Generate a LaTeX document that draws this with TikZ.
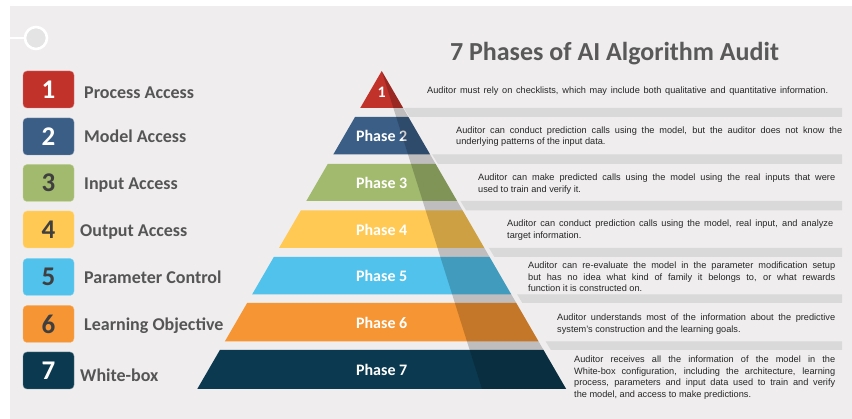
\documentclass[tikz,border=0pt]{standalone}
\usepackage{fontspec}
\setmainfont{Liberation Sans}
\newfontfamily\carl{Carlito}
\definecolor{c1}{HTML}{C1322B}
\definecolor{c2}{HTML}{3B5E86}
\definecolor{c3}{HTML}{A2BA6D}
\definecolor{c4}{HTML}{FFC954}
\definecolor{c5}{HTML}{51C2EC}
\definecolor{c6}{HTML}{F59533}
\definecolor{c7}{HTML}{0B3A50}
\definecolor{bgc}{HTML}{EFEDEE}
\definecolor{barc}{HTML}{D9D9D9}
\definecolor{txtc}{HTML}{262626}
\definecolor{lblc}{HTML}{555555}
\definecolor{titc}{HTML}{595959}
\definecolor{darkdigit}{HTML}{3F3F3F}
\tikzset{
  numbox/.style={rounded corners=4pt, minimum width=51pt, minimum height=37pt, inner sep=0pt,
    font=\carl\bfseries\fontsize{27}{27}\selectfont},
  lbl/.style={anchor=base west, inner sep=0pt, text=lblc, font=\carl\bfseries\fontsize{18}{18}\selectfont},
  phase/.style={text=white, inner sep=0pt, font=\carl\bfseries\fontsize{16}{16}\selectfont},
  body/.style={anchor=base west, inner sep=0pt, text=txtc, font=\fontsize{9.2}{11.5}\selectfont},
  barshape/.style={fill=barc},
  shade7/.style={fill=black, opacity=0.2},
}
\newcommand\tierpath[3]{%
  \fill[#3] ({381.7-0.58*(#1-71)},#1) -- ({381.7+0.58*(#1-71)},#1) --
    ({381.7+0.58*(#2-71)},#2) -- ({381.7-0.58*(#2-71)},#2) -- cycle;}
\newcommand\barpath[2]{%
  \fill[barshape] ({404+0.607*(#1-108)},#1) -- (842,#1) -- (842,#2) -- ({404+0.607*(#2-108)},#2) -- cycle;}
\begin{document}
\begin{tikzpicture}[x=1pt,y=-1pt]
\useasboundingbox (0,0) rectangle (852,419);
\fill[white] (0,0) rectangle (852,419);
\fill[bgc] (10,6) rectangle (852,419);
% ornament
\coordinate (oL) at (10,38);
\node[circle, minimum size=22pt, inner sep=0pt, fill=bgc!96!black, draw=white, line width=2.6pt] (orn) at (36,38) {};
\draw[white, line width=2.6pt] (oL) -- (orn.west);
% title
\node[anchor=base, inner sep=0pt, text=titc, font=\carl\bfseries\fontsize{26}{26}\selectfont] (title) at (614.5,61) {7 Phases of AI Algorithm Audit};
% left boxes
\node[numbox, fill=c1, draw=c1!65!white, text=white] (b1) at (48.5,89.5) {1};
\node[numbox, fill=c2, draw=c2!65!white, text=white] (b2) at (48.5,136.5) {2};
\node[numbox, fill=c3, draw=c3!65!white, text=darkdigit] (b3) at (48.5,183) {3};
\node[numbox, fill=c4, draw=c4!65!white, text=darkdigit] (b4) at (48.5,229.5) {4};
\node[numbox, fill=c5, draw=c5!65!white, text=darkdigit] (b5) at (48.5,277) {5};
\node[numbox, fill=c6, draw=c6!65!white, text=darkdigit] (b6) at (48.5,324) {6};
\node[numbox, fill=c7, draw=c7!65!white, text=white] (b7) at (48.5,370.5) {7};
\node[lbl] (l1) at (84,98.5) {Process Access};
\node[lbl] (l2) at (84,143) {Model Access};
\node[lbl] (l3) at (84,190) {Input Access};
\node[lbl] (l4) at (80,237) {Output Access};
\node[lbl] (l5) at (84,284) {Parameter Control};
\node[lbl] (l6) at (84,330.7) {Learning Objective};
\node[lbl] (l7) at (80,381.7) {White-box};
% gray bars
\barpath{108}{117}
\barpath{154.5}{164}
\barpath{201}{210.5}
\barpath{248}{257}
\barpath{294.5}{303}
\barpath{341.5}{350}
% pyramid
\tierpath{71}{108}{c1}
\tierpath{117}{154.5}{c2}
\tierpath{164}{201}{c3}
\tierpath{210.5}{248}{c4}
\tierpath{257}{294.5}{c5}
\tierpath{303}{341.5}{c6}
\tierpath{350}{389}{c7}
\node[phase] (p1) at (381.7,92) {1};
\node[phase] (p2) at (381.7,136) {Phase 2};
\node[phase] (p3) at (381.7,183) {Phase 3};
\node[phase] (p4) at (381.7,229.5) {Phase 4};
\node[phase] (p5) at (381.7,276) {Phase 5};
\node[phase] (p6) at (381.7,322.5) {Phase 6};
\node[phase] (p7) at (381.7,369.5) {Phase 7};
% shadow
\fill[shade7] (381.7,71) -- (482,389) -- (566.14,389) -- cycle;
% descriptions
\node[body] (t1) at (427,93.3) {\hbox to 401pt{Auditor must rely on checklists, which may include both qualitative and quantitative information.}};
\node[body] (t2) at (456,133.3) {\vtop{\baselineskip=11.5pt
  \hbox to 386pt{Auditor can conduct prediction calls using the model, but the auditor does not know the}
  \hbox{underlying patterns of the input data.}}};
\node[body] (t3) at (478,180.7) {\vtop{\baselineskip=11.5pt
  \hbox to 357pt{Auditor can make predicted calls using the model using the real inputs that were}
  \hbox{used to train and verify it.}}};
\node[body] (t4) at (507,226.7) {\vtop{\baselineskip=11.5pt
  \hbox to 326pt{Auditor can conduct prediction calls using the model, real input, and analyze}
  \hbox{target information.}}};
\node[body] (t5) at (528,269) {\vtop{\baselineskip=11.5pt
  \hbox to 307pt{Auditor can re-evaluate the model in the parameter modification setup}
  \hbox to 307pt{but has no idea what kind of family it belongs to, or what rewards}
  \hbox{function it is constructed on.}}};
\node[body] (t6) at (557,321) {\vtop{\baselineskip=11.5pt
  \hbox to 278pt{Auditor understands most of the information about the predictive}
  \hbox{system’s construction and the learning goals.}}};
\node[body] (t7) at (574,362.7) {\vtop{\baselineskip=11.5pt
  \hbox to 261pt{Auditor receives all the information of the model in the}
  \hbox to 261pt{White-box configuration, including the architecture, learning}
  \hbox to 261pt{process, parameters and input data used to train and verify}
  \hbox{the model, and access to make predictions.}}};
\end{tikzpicture}
\end{document}
